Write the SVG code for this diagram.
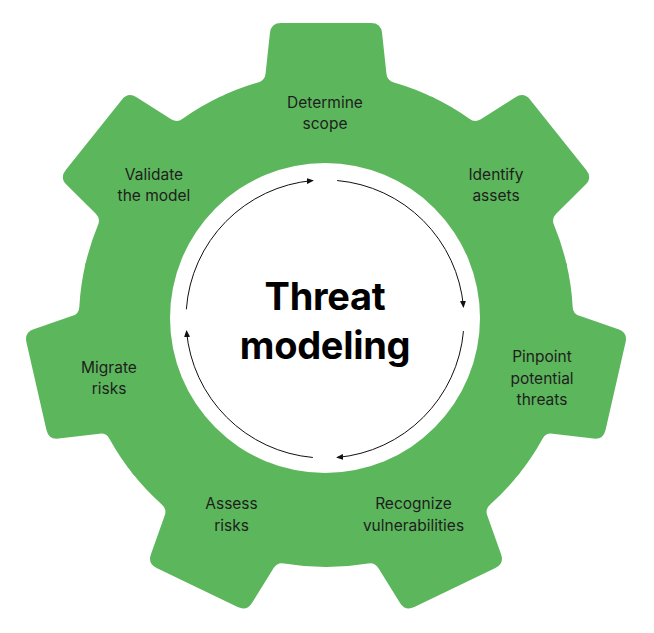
<svg xmlns="http://www.w3.org/2000/svg" xmlns:xlink="http://www.w3.org/1999/xlink" width="654" height="633" viewBox="0 0 654 633">
  <style>
    .gear { fill: #5cb65b; }
    .hub { fill: #ffffff; }
    .label { font-family: Inter, "Liberation Sans", sans-serif; font-size: 15.5px; fill: #1e1e1e; text-anchor: middle; }
    .title { font-family: Inter, "Liberation Sans", sans-serif; font-size: 38px; font-weight: 700; letter-spacing: -0.3px; fill: #000000; text-anchor: middle; }
    .flow { fill: none; stroke: #111111; stroke-width: 1; marker-end: url(#arrow); }
  </style>
  <defs>
    <marker id="arrow" markerUnits="userSpaceOnUse" markerWidth="7" markerHeight="6" refX="6" refY="3" orient="auto">
      <path d="M0 0 L7 3 L0 6 Z" fill="#111111"/>
    </marker>
    <path id="tooth" d="M0 0 L-109.0 -221.6 A247 247 0 0 1 -67.9 -237.5 Q-61.2 -239.2 -60.45 -246.2 L-56.07 -287.06 Q-55 -297 -45 -297 L45 -297 Q55 -297 56.07 -287.06 L60.45 -246.2 Q61.2 -239.2 67.9 -237.5 A247 247 0 0 1 109.0 -221.6 Z"/>
  </defs>

  <g id="gear" class="gear" transform="translate(326 320)">
    <use xlink:href="#tooth" href="#tooth"/>
    <use xlink:href="#tooth" href="#tooth" transform="rotate(51.4286)"/>
    <use xlink:href="#tooth" href="#tooth" transform="rotate(102.8571)"/>
    <use xlink:href="#tooth" href="#tooth" transform="rotate(154.2857)"/>
    <use xlink:href="#tooth" href="#tooth" transform="rotate(205.7143)"/>
    <use xlink:href="#tooth" href="#tooth" transform="rotate(257.1429)"/>
    <use xlink:href="#tooth" href="#tooth" transform="rotate(308.5714)"/>
  </g>

  <g id="center">
    <circle class="hub" cx="325" cy="318" r="155"/>
    <text class="title" x="325" y="310">Threat</text>
    <text class="title" x="325" y="359">modeling</text>
  </g>

  <g id="connectors">
    <path class="flow" d="M186.34 309.30 A139 139 0 0 1 312.88 180.53"/>
    <path class="flow" d="M337.12 180.53 A139 139 0 0 1 463.47 306.88"/>
    <path class="flow" d="M463.47 331.12 A139 139 0 0 1 337.12 457.47"/>
    <path class="flow" d="M312.88 457.47 A139 139 0 0 1 186.53 331.12"/>
  </g>

  <g id="determine-scope">
    <text class="label" x="325" y="108">Determine</text>
    <text class="label" x="325" y="129">scope</text>
  </g>
  <g id="identify-assets">
    <text class="label" x="496" y="180">Identify</text>
    <text class="label" x="496" y="201">assets</text>
  </g>
  <g id="pinpoint-threats">
    <text class="label" x="542" y="362">Pinpoint</text>
    <text class="label" x="542" y="383.5">potential</text>
    <text class="label" x="542" y="405">threats</text>
  </g>
  <g id="recognize-vulnerabilities">
    <text class="label" x="413.5" y="509">Recognize</text>
    <text class="label" x="413.5" y="530.5">vulnerabilities</text>
  </g>
  <g id="assess-risks">
    <text class="label" x="231.5" y="509">Assess</text>
    <text class="label" x="231.5" y="530.5">risks</text>
  </g>
  <g id="migrate-risks">
    <text class="label" x="109" y="372.5">Migrate</text>
    <text class="label" x="109" y="393.5">risks</text>
  </g>
  <g id="validate-model">
    <text class="label" x="154" y="180">Validate</text>
    <text class="label" x="154" y="201">the model</text>
  </g>
</svg>
